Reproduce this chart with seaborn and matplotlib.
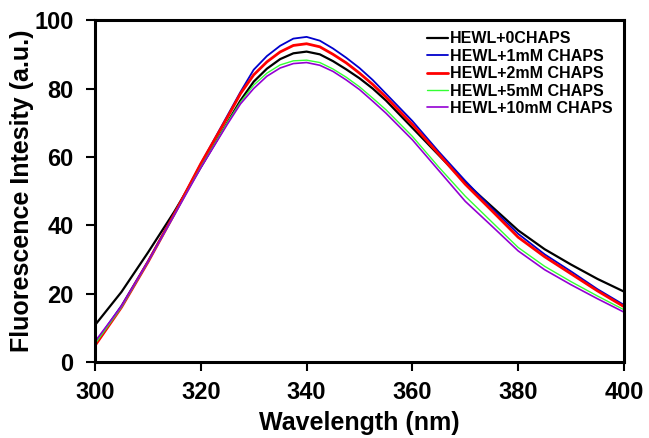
import seaborn as sn
import matplotlib.pyplot as plt
import pandas as pd

# wavelength grid (nm), finer around the maximum
wavelength = [300, 305, 310, 315, 320, 325, 327.5, 330, 332.5, 335, 337.5, 340,
              342.5, 345, 347.5, 350, 352.5, 355, 360, 365, 370, 375, 380,
              385, 390, 395, 400]

# fluorescence intensity
hewl_0 = [10.8, 20.5, 32.0, 44.0, 57.0, 70.0, 76.5, 82.0, 85.8, 88.6, 90.3, 90.8,
          90.0, 88.0, 85.6, 83.0, 80.0, 76.5, 68.5, 60.5, 52.5, 45.5, 38.5,
          33.0, 28.5, 24.3, 20.6]
hewl_1 = [5.5, 16.5, 29.5, 43.5, 58.0, 72.0, 79.0, 85.5, 89.5, 92.5, 94.6, 95.1,
          94.0, 91.7, 89.0, 86.0, 82.5, 78.5, 70.5, 61.5, 53.0, 45.0, 37.5,
          31.5, 26.5, 21.3, 16.7]
hewl_2 = [4.8, 16.0, 29.2, 43.3, 58.0, 71.5, 78.5, 84.0, 87.8, 90.7, 92.6, 93.1,
          92.2, 90.0, 87.5, 84.5, 81.2, 77.5, 69.5, 60.8, 52.0, 44.3, 36.5,
          30.8, 25.8, 20.8, 16.2]
hewl_5 = [5.3, 16.0, 29.2, 43.0, 57.0, 70.0, 76.0, 81.0, 84.5, 86.9, 88.1, 88.3,
          87.6, 85.7, 83.3, 80.5, 77.2, 73.8, 66.0, 57.0, 48.5, 41.0, 33.5,
          28.0, 23.5, 19.3, 15.3]
hewl_10 = [6.0, 16.3, 29.3, 43.0, 56.8, 69.5, 75.5, 80.0, 83.6, 86.0, 87.3, 87.6,
           86.8, 85.0, 82.5, 79.7, 76.3, 72.8, 65.0, 56.0, 47.0, 39.8, 32.5,
           27.0, 22.6, 18.5, 14.6]

labels = ["HEWL+0CHAPS", "HEWL+1mM CHAPS", "HEWL+2mM CHAPS",
          "HEWL+5mM CHAPS", "HEWL+10mM CHAPS"]
series = [hewl_0, hewl_1, hewl_2, hewl_5, hewl_10]
colors = ["black", "#0000cc", "#ff0000", "#33ff33", "#9400d3"]
widths = [1.6, 1.3, 2.0, 1.0, 1.2]

rows = []
for lab, vals in zip(labels, series):
    for w, v in zip(wavelength, vals):
        rows.append({"Wavelength": w, "Intensity": v, "Sample": lab})
spectra_df = pd.DataFrame(rows)

sn.set_style("ticks", {"axes.edgecolor": "black", "text.color": "black",
                       "axes.labelcolor": "black", "xtick.color": "black",
                       "ytick.color": "black"})
plt.rcParams["font.family"] = ["Liberation Sans", "DejaVu Sans"]
plt.rcParams["font.weight"] = "bold"

fig = plt.figure(figsize=(6.49, 4.38), dpi=100)
ax = fig.add_axes([0.1464, 0.1735, 0.815, 0.7805])

for lab, col, lw in zip(labels, colors, widths):
    sn.lineplot(data=spectra_df[spectra_df.Sample == lab], x="Wavelength",
                y="Intensity", color=col, linewidth=lw, label=lab, ax=ax)

ax.set_xlim(300, 400)
ax.set_ylim(0, 100)
ax.set_xticks([300, 320, 340, 360, 380, 400])
ax.set_yticks([0, 20, 40, 60, 80, 100])
ax.set_xlabel("Wavelength (nm)", fontsize=18, fontweight="bold", labelpad=5)
ax.set_ylabel("Fluorescence Intesity (a.u.)", fontsize=18, fontweight="bold", labelpad=0)
ax.tick_params(labelsize=17, width=1.5, length=6.5, direction="out", colors="black")
ax.tick_params(axis="x", pad=7)
ax.tick_params(axis="y", pad=9)
for lab in ax.get_xticklabels() + ax.get_yticklabels():
    lab.set_fontweight("bold")
for sp in ax.spines.values():
    sp.set_linewidth(2.2)
    sp.set_color("black")
    sp.set_visible(True)

leg = ax.legend(loc="upper right", frameon=False, fontsize=11.5, handlelength=1.3,
                handletextpad=0.15, labelspacing=0.15, borderaxespad=0.3)
for t in leg.get_texts():
    t.set_fontweight("bold")
    t.set_color("black")

fig.savefig("out.png", dpi=100)
